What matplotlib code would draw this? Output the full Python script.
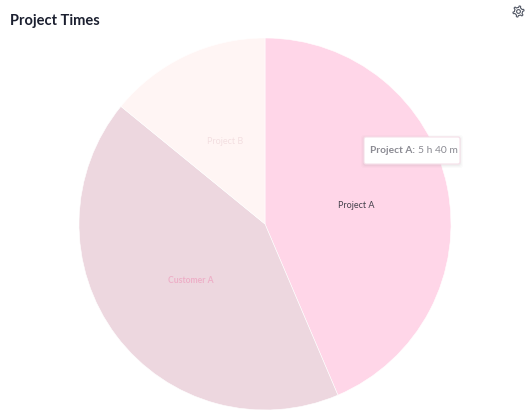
import numpy as np
import matplotlib
matplotlib.use("Agg")
import matplotlib.pyplot as plt
from matplotlib.patches import FancyBboxPatch, Polygon, Circle

labels = ["Project A", "Customer A", "Project B"]
minutes = [340, 330, 110]
colors = ["#ffd6e8", "#edd7df", "#fff5f4"]
label_colors = ["#45424c", "#eeb0c8", "#f3dfe1"]
title = "Project Times"
tip_name = "Project A:"
tip_value = "5 h 40 m"

W, H = 530, 420
fig = plt.figure(figsize=(W / 100, H / 100), dpi=100, facecolor="white")
ax = fig.add_axes([0, 0, 1, 1])

# y axis is inverted, so counterclock=True sweeps clockwise on screen
wedges, _ = ax.pie(minutes, colors=colors, startangle=-90, counterclock=True,
                   center=(265, 224), radius=186, frame=True,
                   wedgeprops=dict(edgecolor="white", linewidth=0.4))
ax.set_xlim(0, W)
ax.set_ylim(H, 0)
ax.set_aspect("equal")
ax.axis("off")

pos = [(356, 205.5), (191, 280.5), (225, 141)]
weights = ["normal", "bold", "normal"]
sizes = [6.5, 6.2, 6.5]
for (x, y), t, c, w, s in zip(pos, labels, label_colors, weights, sizes):
    ax.text(x, y, t, ha="center", va="center", fontsize=s, color=c, family="Lato", fontweight=w)

ax.text(10, 21, title, ha="left", va="center", fontsize=10.5, fontweight="bold",
        color="#1c2030", family="Lato")

# settings icon: outlined gear
cx, cy = 518.5, 11.5
ang = np.deg2rad(np.arange(0, 360, 7.5) + 30)
prof = np.tile([4.0, 5.6, 5.6, 5.6, 4.0, 4.0, 4.0, 4.0], 6)
gear = np.column_stack([cx + prof * np.cos(ang), cy + prof * np.sin(ang)])
ax.add_patch(Polygon(gear, closed=True, fc="none", ec="#565b68", lw=0.8, joinstyle="round"))
ax.add_patch(Circle((cx, cy), 1.9, fc="none", ec="#565b68", lw=0.8))

# tooltip
for grow, alpha in [(3, 0.03), (2, 0.04), (1, 0.06)]:
    ax.add_patch(FancyBboxPatch((364 - grow, 137 - grow + 1), 96 + 2 * grow, 27 + 2 * grow,
                                boxstyle="round,pad=0,rounding_size=3",
                                fc="#808080", ec="none", alpha=alpha, zorder=4))
ax.add_patch(FancyBboxPatch((364, 137), 96, 27, boxstyle="round,pad=0,rounding_size=2",
                            fc="white", ec="#f6dfe9", lw=0.8, zorder=5))
ax.text(370, 150.5, tip_name, ha="left", va="center", fontsize=7.3, fontweight="bold",
        color="#8a8a92", family="Lato", zorder=6)
ax.text(417.5, 150.5, tip_value, ha="left", va="center", fontsize=7.4,
        color="#8a8a92", family="Lato", zorder=6)

fig.savefig("out.png", dpi=100, facecolor="white")
